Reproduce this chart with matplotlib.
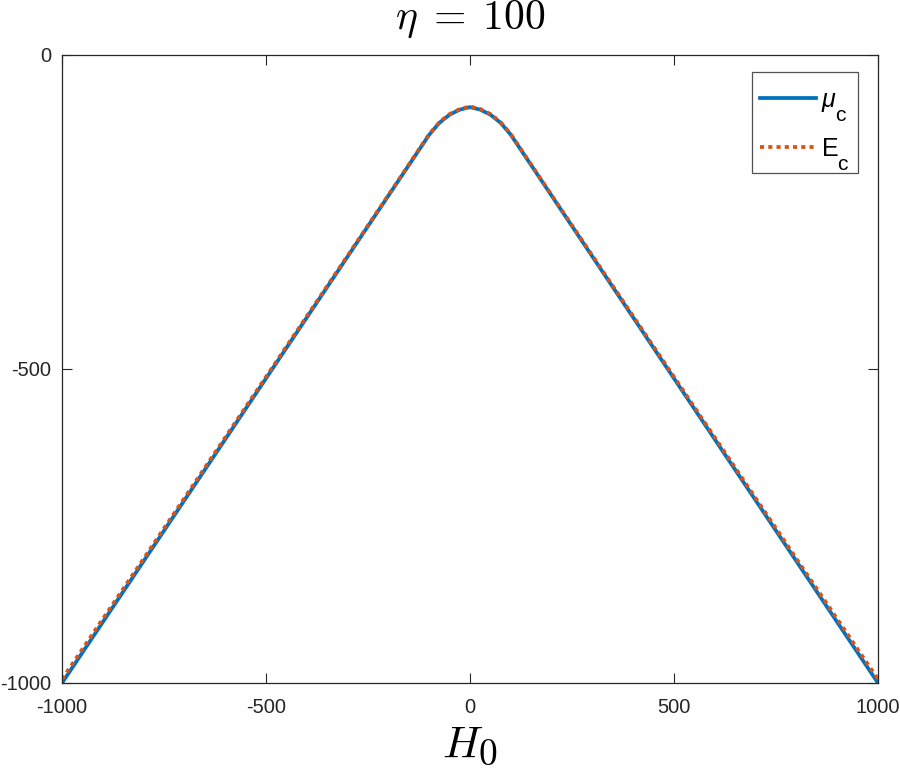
import matplotlib
matplotlib.use("Agg")
import matplotlib.pyplot as plt
import matplotlib._mathtext as _mt
from matplotlib.path import Path

# MATLAB-like larger, lower subscripts in the legend labels (sans fonts only)
_mt.SHRINK_FACTOR = 0.84
_mt.FontConstantsBase.sub1 = 1.0
_mt.FontConstantsBase.sub2 = 1.0
_mt.FontConstantsBase.script_space = 0.35

plt.rcParams['font.family'] = ['Liberation Sans', 'DejaVu Sans']
plt.rcParams['mathtext.fontset'] = 'custom'
plt.rcParams['mathtext.rm'] = 'Liberation Sans'
plt.rcParams['mathtext.it'] = 'Liberation Sans:italic'

H0 = [-1000, -900, -800, -700, -600, -500, -400, -300, -200, -100,
      -75, -50, -25, 0, 25, 50, 75, 100,
      200, 300, 400, 500, 600, 700, 800, 900, 1000]
mu_c = [-1000, -903, -806, -709, -612, -515, -418, -321, -224, -127,
        -108, -95, -87, -83, -87, -95, -108, -127,
        -224, -321, -418, -515, -612, -709, -806, -903, -1000]
E_c = [-994, -898, -802, -705.5, -609, -512.5, -416, -319.5, -223, -126,
       -107, -94, -86, -82, -86, -94, -107, -126,
       -223, -319.5, -416, -512.5, -609, -705.5, -802, -898, -994]

fig = plt.figure(figsize=(9, 7.68), dpi=100)
ax = fig.add_axes([62/900, 1-683/768, (878-62)/900, (683-55)/768])

ax.plot(H0, mu_c, color='#0072BD', lw=2.7, label=r'$\mu_{\mathrm{c}}$')
ax.plot(H0, E_c, color='#D95319', lw=2.7, ls=(0, (1.1, 1.1)),
        dash_capstyle='butt', label=r'$\mathrm{E}_{\mathrm{c}}$')

ax.set_xlim(-1000, 1000)
ax.set_ylim(-1000, 0)
ax.set_xticks([-1000, -500, 0, 500, 1000])
ax.set_yticks([-1000, -500, 0])
ax.set_xticklabels(['-1000', '-500', '0', '500', '1000'])
ax.set_yticklabels(['-1000', '-500', '0'])
ax.tick_params(direction='in', length=7, width=0.8, top=True, right=True,
               labelsize=14.5, colors='#262626')
ax.tick_params(axis='x', pad=11)
ax.tick_params(axis='y', pad=7.5)
for s in ax.spines.values():
    s.set_color('#262626')
    s.set_linewidth(0.9)

ax.set_title(r'$\eta\;=\;100$', fontsize=30, math_fontfamily='cm', pad=19)
ax.set_xlabel(r'$H_0$', fontsize=32, math_fontfamily='cm', labelpad=6)

TOP_EXTRA = 8    # extra frame padding above the entries (pixels), MATLAB style
BOTTOM_CUT = 7   # less padding below the entries (pixels)


def _asym_box(x0, y0, width, height, mutation_size):
    ya = y0 + BOTTOM_CUT
    yb = y0 + height + TOP_EXTRA
    return Path([(x0, ya), (x0 + width, ya), (x0 + width, yb), (x0, yb), (x0, ya)],
                closed=True)


leg = ax.legend(loc='upper right', fontsize=18, frameon=True, fancybox=False,
                edgecolor='#262626', handlelength=2.24, borderpad=0.32,
                labelspacing=0.5, handletextpad=0.2, borderaxespad=0,
                bbox_to_anchor=(0.9755, (683 - 72 - TOP_EXTRA) / 628))
leg.get_frame().set_linewidth(0.9)
leg.get_frame().set_boxstyle(_asym_box)

fig.savefig('out.png', dpi=100)
